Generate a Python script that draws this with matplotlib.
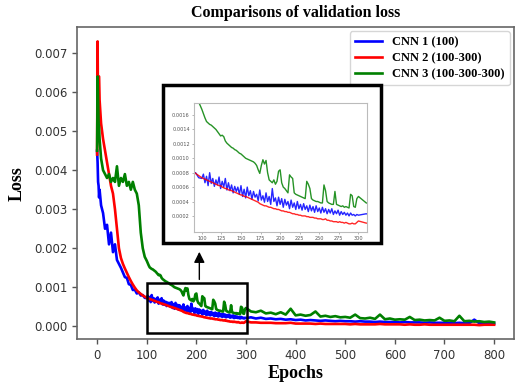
import numpy as np
import matplotlib
matplotlib.use("Agg")
import matplotlib.pyplot as plt
from matplotlib.patches import Rectangle
from matplotlib.ticker import FormatStrFormatter

# ---------------- data ----------------
epochs_early = [0, 1, 2, 3, 4, 5, 8, 12, 16, 20, 24, 28, 32, 36, 40, 44, 48, 52, 56, 60,
                64, 68, 72, 76, 80, 84, 88, 92, 96, 100]
epochs_mid = list(range(102, 301, 2))
epochs_late = list(range(310, 801, 10))

cnn1_early = [0.0045, 0.0042, 0.0037, 0.0036, 0.0033, 0.0035, 0.0031, 0.0029, 0.0025, 0.0026,
              0.0021, 0.0024, 0.0019, 0.0021, 0.0017, 0.0016, 0.0015, 0.00138, 0.00126, 0.00124,
              0.00108, 0.00106, 0.00093, 0.00094, 0.00084, 0.00087, 0.00079, 0.00080, 0.00073, 0.00072]
cnn2_early = [0.0044, 0.0073, 0.0052, 0.0064, 0.0064, 0.0058, 0.0052, 0.0048, 0.0045, 0.0042,
              0.0039, 0.0036, 0.0034, 0.0030, 0.0025, 0.0020, 0.00175, 0.00160, 0.00148, 0.00137,
              0.00126, 0.00116, 0.00107, 0.00099, 0.00092, 0.00087, 0.00083, 0.00079, 0.00076, 0.00073]
cnn3_early = [0.0045, 0.0064, 0.0058, 0.0052, 0.0051, 0.0048, 0.0043, 0.0040, 0.0039, 0.0038,
              0.0039, 0.0037, 0.0038, 0.0037, 0.0041, 0.0036, 0.0038, 0.0037, 0.0039, 0.0036,
              0.0037, 0.0035, 0.0037, 0.0035, 0.0034, 0.0031, 0.0024, 0.0020, 0.00178, 0.00168]

cnn1_mid = [.00078, .00066, .00075, .00062, .00080, .00065, .00072, .00061, .00070, .00063,
            .00074, .00058, .00068, .00060, .00072, .00056, .00066, .00055, .00063, .00052,
            .00061, .00054, .00060, .00050, .00062, .00047, .00057, .00045, .00060, .00048,
            .00055, .00043, .00054, .00046, .00050, .00041, .00056, .00042, .00048, .00039,
            .00052, .00040, .00047, .00036, .00058, .00040, .00045, .00034, .00046, .00036,
            .00044, .00032, .00043, .00035, .00040, .00030, .00042, .00032, .00038, .00029,
            .00040, .00030, .00036, .00028, .00037, .00029, .00034, .00026, .00035, .00027,
            .00033, .00025, .00034, .00026, .00031, .00024, .00032, .00025, .00030, .00023,
            .00029, .00024, .00030, .00022, .00027, .00023, .00028, .00021, .00026, .00022,
            .00025, .00021, .00024, .00020, .00024, .00021, .00022, .00020, .00022, .00021]
cnn2_mid = [.00072, .00071, .00070, .00069, .00068, .00067, .00066, .00065, .00064, .00063,
            .00062, .00062, .00060, .00059, .00058, .00058, .00056, .00056, .00055, .00054,
            .00053, .00052, .00051, .00050, .00049, .00049, .00047, .00047, .00046, .00045,
            .00044, .00043, .00042, .00041, .00040, .00039, .00037, .00036, .00035, .00034,
            .00034, .00033, .00032, .00032, .00031, .00030, .00030, .00029, .00029, .00028,
            .00027, .00027, .00026, .00026, .00025, .00025, .00024, .00023, .00023, .00022,
            .00022, .00021, .00021, .00020, .00020, .00020, .00019, .00019, .00018, .00018,
            .00018, .00017, .00017, .00016, .00016, .00016, .00015, .00015, .00016, .00014,
            .00014, .00013, .00013, .00012, .00012, .00012, .00011, .00012, .00011, .00011,
            .00010, .00011, .00010, .00009, .00009, .00010, .00009, .00009, .00011, .00013]
cnn3_mid = [.00162, .00156, .00151, .00149, .00147, .00146, .00144, .00142, .00140, .00137,
            .00134, .00131, .00132, .00130, .00124, .00121, .00119, .00117, .00115, .00114,
            .00112, .00111, .00109, .00107, .00106, .00104, .00102, .00100, .00099, .00098,
            .00097, .00096, .00095, .00093, .00090, .00084, .00079, .00090, .00098, .00092,
            .00097, .00080, .00070, .00068, .00066, .00070, .00064, .00068, .00082, .00084,
            .00066, .00060, .00058, .00055, .00052, .00077, .00074, .00072, .00052, .00050,
            .00049, .00048, .00047, .00046, .00045, .00044, .00068, .00064, .00058, .00044,
            .00042, .00041, .00040, .00040, .00039, .00038, .00038, .00063, .00055, .00040,
            .00038, .00037, .00036, .00036, .00054, .00036, .00035, .00034, .00033, .00034,
            .00032, .00033, .00032, .00031, .00050, .00048, .00033, .00032, .00044, .00047]

cnn1_late = [.00023, .00020, .00022, .00019, .00020, .00018, .00019, .00017, .00018, .00016,
             .00017, .00015, .00016, .00015, .00014, .00015, .00014, .00013, .00014, .00013,
             .00013, .00012, .00013, .00012, .00012, .00011, .00012, .00011, .00011, .00011,
             .00010, .00011, .00010, .00010, .00010, .00009, .00010, .00009, .00009, .00009,
             .00009, .00008, .00009, .00008, .00008, .00017, .00008, .00008, .00007, .00007]
cnn2_late = [.00010, .00010, .00009, .00009, .00009, .00008, .00008, .00008, .00009, .00007,
             .00007, .00007, .00007, .00006, .00007, .00006, .00006, .00006, .00006, .00006,
             .00005, .00006, .00005, .00005, .00005, .00005, .00006, .00005, .00005, .00005,
             .00005, .00004, .00005, .00004, .00004, .00005, .00004, .00004, .00004, .00004,
             .00004, .00004, .00004, .00004, .00004, .00004, .00003, .00004, .00004, .00004]
cnn3_late = [.00038, .00036, .00040, .00033, .00035, .00031, .00036, .00030, .00045, .00028,
             .00030, .00027, .00029, .00038, .00025, .00027, .00024, .00026, .00023, .00024,
             .00022, .00030, .00021, .00020, .00022, .00019, .00030, .00018, .00020, .00017,
             .00018, .00017, .00024, .00016, .00017, .00015, .00016, .00015, .00022, .00014,
             .00015, .00013, .00027, .00013, .00014, .00012, .00013, .00011, .00012, .00010]

labels = ["CNN 1 (100)", "CNN 2 (100-300)", "CNN 3 (100-300-300)"]
colors = ["#0000ff", "#ff0000", "#008000"]
x_ticks = list(range(0, 801, 100))
y_ticks = [0.000, 0.001, 0.002, 0.003, 0.004, 0.005, 0.006, 0.007]
inset_x_ticks = list(range(100, 301, 25))
inset_y_ticks = [0.0002, 0.0004, 0.0006, 0.0008, 0.0010, 0.0012, 0.0014, 0.0016]

epochs = np.array(epochs_early + epochs_mid + epochs_late)
series = [np.array(cnn1_early + cnn1_mid + cnn1_late),
          np.array(cnn2_early + cnn2_mid + cnn2_late),
          np.array(cnn3_early + cnn3_mid + cnn3_late)]

# ---------------- figure ----------------
serif = ["Liberation Serif", "DejaVu Serif"]
fig = plt.figure(figsize=(5.15, 3.85), dpi=100)
ax = fig.add_axes([0.150, 0.119, 0.848, 0.811])

for y, c, lab in zip(series, colors, labels):
    ax.plot(epochs, y, color=c, lw=1.9, label=lab)

ax.set_xlim(-40, 840)
ax.set_ylim(-0.00033, 0.00767)
ax.set_xticks(x_ticks)
ax.set_yticks(y_ticks)
ax.yaxis.set_major_formatter(FormatStrFormatter("%.3f"))
ax.tick_params(labelsize=8.5, labelcolor="#333333", color="#555555", length=3.5, width=1)
for s in ax.spines.values():
    s.set_color("#666666")
    s.set_linewidth(1.2)

ax.set_title("Comparisons of validation loss", fontfamily=serif, fontweight="bold",
             fontsize=11.5, pad=7)
ax.set_xlabel("Epochs", fontfamily=serif, fontweight="bold", fontsize=13, labelpad=2)
ax.set_ylabel("Loss", fontfamily=serif, fontweight="bold", fontsize=13, labelpad=6)

leg = ax.legend(loc="upper right", prop={"family": serif, "weight": "bold", "size": 9},
                frameon=True, borderaxespad=0.35, handlelength=2.2, labelspacing=0.32,
                borderpad=0.4)
leg.get_frame().set_edgecolor("#cccccc")

# zoom rectangle on main axes
ax.add_patch(Rectangle((100, -0.00016), 203, 0.00128, fill=False, ec="black", lw=1.8, zorder=6))
ax.annotate("", xy=(206, 0.00198), xytext=(206, 0.00113),
            arrowprops=dict(arrowstyle="-|>", color="black", lw=1, mutation_scale=16), zorder=6)

# inset frame (figure coords)
fig.patches.append(Rectangle((0.3165, 0.369), 0.4235, 0.411, transform=fig.transFigure,
                             fc="white", ec="black", lw=2.5, zorder=3))

ins = fig.add_axes([0.3767, 0.398, 0.336, 0.335], zorder=4)
for y, c in zip(series, colors):
    ins.plot(epochs, y, color=c, lw=1.0, alpha=0.85)
ins.set_xlim(90, 311)
ins.set_ylim(-0.00002, 0.00177)
ins.set_xticks(inset_x_ticks)
ins.set_yticks(inset_y_ticks)
ins.yaxis.set_major_formatter(FormatStrFormatter("%.4f"))
ins.tick_params(labelsize=3.6, labelcolor="#555555", color="#999999", length=1.5, width=0.5, pad=1.5)
for s in ins.spines.values():
    s.set_color("#bbbbbb")
    s.set_linewidth(0.8)

fig.savefig("out.png", dpi=100)
